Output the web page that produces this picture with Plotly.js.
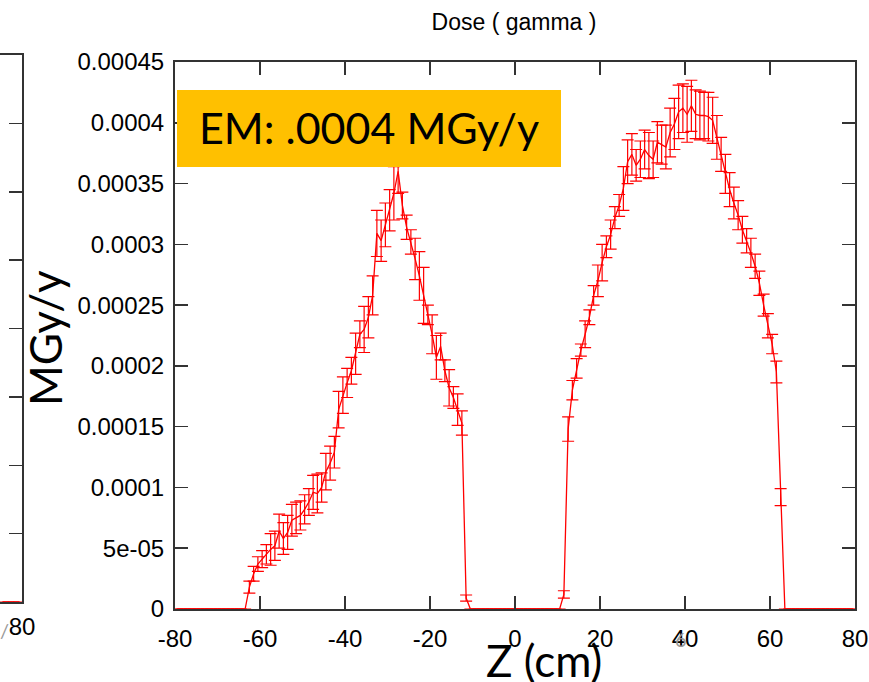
<!DOCTYPE html>
<html>
<head>
<meta charset="utf-8">
<script src="https://cdn.plot.ly/plotly-3.0.1.min.js"></script>
<style>html,body{margin:0;padding:0;background:#fff;}#chart{width:869px;height:682px;}</style>
</head>
<body>
<div id="chart"></div>
<script>
// Bin centres along Z (cm)
const zCm = [
-79.5,-78.5,-77.5,-76.5,-75.5,-74.5,-73.5,-72.5,-71.5,-70.5,-69.5,-68.5,-67.5,-66.5,-65.5,-64.5,-63.5,
-62.5,-61.5,-60.5,-59.5,-58.5,-57.5,-56.5,-55.5,-54.5,-53.5,-52.5,-51.5,-50.5,-49.5,-48.5,-47.5,-46.5,-45.5,-44.5,-43.5,
-42.5,-41.5,-40.5,-39.5,-38.5,-37.5,-36.5,-35.5,-34.5,-33.5,-32.5,-31.5,-30.5,-29.5,-28.5,-27.5,-26.5,-25.5,-24.5,-23.5,
-22.5,-21.5,-20.5,-19.5,-18.5,-17.5,-16.5,-15.5,-14.5,-13.5,-12.5,-11.5,
-10.5,-9.5,-8.5,-7.5,-6.5,-5.5,-4.5,-3.5,-2.5,-1.5,-0.5,0.5,1.5,2.5,3.5,4.5,5.5,6.5,7.5,8.5,9.5,10.5,
11.5,12.5,13.5,14.5,15.5,16.5,17.5,18.5,19.5,20.5,21.5,22.5,23.5,24.5,25.5,26.5,27.5,28.5,29.5,30.5,
31.5,32.5,33.5,34.5,35.5,36.5,37.5,38.5,39.5,40.5,41.5,42.5,43.5,44.5,45.5,46.5,47.5,48.5,49.5,50.5,
51.5,52.5,53.5,54.5,55.5,56.5,57.5,58.5,59.5,60.5,61.5,62.5,
63.5,64.5,65.5,66.5,67.5,68.5,69.5,70.5,71.5,72.5,73.5,74.5,75.5,76.5,77.5,78.5,79.5
];
// Dose (MGy/y)
const dose = [
0,0,0,0,0,0,0,0,0,0,0,0,0,0,0,0,0,
1.8e-5,2.9e-5,3.7e-5,4.1e-5,4.5e-5,4.9e-5,5.2e-5,6.4e-5,5.8e-5,6.3e-5,7.3e-5,7.5e-5,7.7e-5,8.2e-5,8.8e-5,9.6e-5,9.5e-5,10.0e-5,11.3e-5,12.0e-5,
12.9e-5,16.4e-5,17.6e-5,18.6e-5,19.6e-5,21.0e-5,22.6e-5,23.0e-5,24.0e-5,25.8e-5,30.9e-5,30.3e-5,31.6e-5,32.8e-5,34.2e-5,36.0e-5,33.2e-5,31.4e-5,30.2e-5,28.8e-5,
27.4e-5,25.8e-5,24.2e-5,22.6e-5,20.7e-5,21.6e-5,19.6e-5,18.2e-5,17.4e-5,16.4e-5,15.3e-5,0.9e-5,
0,0,0,0,0,0,0,0,0,0,0,0,0,0,0,0,0,0,0,0,0,0,
1.2e-5,14.8e-5,18.0e-5,19.8e-5,21.3e-5,22.6e-5,24.0e-5,25.8e-5,27.0e-5,28.5e-5,29.8e-5,30.8e-5,32.2e-5,33.2e-5,34.6e-5,36.8e-5,37.4e-5,36.5e-5,37.0e-5,37.8e-5,
37.3e-5,37.0e-5,38.4e-5,38.2e-5,38.0e-5,39.2e-5,39.9e-5,40.9e-5,41.2e-5,40.7e-5,41.4e-5,40.7e-5,40.6e-5,40.6e-5,40.5e-5,40.2e-5,38.8e-5,37.4e-5,35.8e-5,34.5e-5,
33.4e-5,32.4e-5,31.2e-5,30.3e-5,29.3e-5,28.2e-5,26.8e-5,25.0e-5,23.3e-5,21.8e-5,19.5e-5,9.2e-5,
0,0,0,0,0,0,0,0,0,0,0,0,0,0,0,0,0
];
// Statistical error (MGy/y)
const doseErr = [
0,0,0,0,0,0,0,0,0,0,0,0,0,0,0,0,0,
0.5e-5,0.6e-5,0.6e-5,0.7e-5,0.8e-5,1.3e-5,1.2e-5,1.4e-5,1.3e-5,1.4e-5,1.3e-5,1.3e-5,1.2e-5,1.2e-5,1.1e-5,1.4e-5,1.6e-5,1.2e-5,1.5e-5,1.4e-5,
1.3e-5,1.5e-5,1.5e-5,1.2e-5,1.1e-5,1.7e-5,1.1e-5,1.9e-5,1.7e-5,1.6e-5,1.9e-5,1.7e-5,1.8e-5,1.7e-5,2.2e-5,1.8e-5,1.1e-5,1.0e-5,1.0e-5,1.7e-5,
2.0e-5,2.3e-5,0.8e-5,1.6e-5,1.8e-5,1.1e-5,0.9e-5,1.5e-5,0.9e-5,1.3e-5,1.0e-5,0.25e-5,
0,0,0,0,0,0,0,0,0,0,0,0,0,0,0,0,0,0,0,0,0,0,
0.3e-5,1.0e-5,0.8e-5,0.8e-5,0.5e-5,1.1e-5,0.6e-5,0.8e-5,1.3e-5,1.5e-5,0.9e-5,1.2e-5,0.9e-5,0.9e-5,1.8e-5,1.8e-5,1.7e-5,1.3e-5,1.5e-5,1.6e-5,
1.9e-5,1.5e-5,1.7e-5,1.6e-5,1.8e-5,2.0e-5,2.1e-5,2.2e-5,2.0e-5,2.3e-5,2.1e-5,2.0e-5,2.0e-5,1.9e-5,2.0e-5,1.9e-5,1.8e-5,1.4e-5,1.6e-5,1.4e-5,
1.3e-5,1.2e-5,1.1e-5,1.0e-5,1.2e-5,1.0e-5,1.0e-5,0.9e-5,1.0e-5,0.8e-5,0.9e-5,0.7e-5,
0,0,0,0,0,0,0,0,0,0,0,0,0,0,0,0,0
];
// Tick labels
const xTickVals = [-80,-60,-40,-20,0,20,40,60,80];
const xTickText = ['-80','-60','-40','-20','0','20','40','60','80'];
const yTickVals = [0,0.00005,0.0001,0.00015,0.0002,0.00025,0.0003,0.00035,0.0004,0.00045];
const yTickText = ['0','5e-05','0.0001','0.00015','0.0002','0.00025','0.0003','0.00035','0.0004','0.00045'];
// neighbouring (cut-off) panel on the left
const leftZ = [76.5,77.5,78.5,79.5];
const leftDose = [0,0,0,0];

const W = 855, TOP = 55, BOT = 609, H = BOT - TOP;
const px = x => x / W;
const py = y => (BOT - y) / H;

const red = '#ff0000';
const axisCol = '#333333';
const tickFont = {family: 'Liberation Sans, Arial, sans-serif', size: 24, color: '#000'};

const traces = [
  {
    x: zCm, y: dose, type: 'scatter', mode: 'lines',
    line: {color: red, width: 1.3},
    error_y: {type: 'data', array: doseErr, visible: true, color: red, thickness: 1.2, width: 6},
    cliponaxis: false, xaxis: 'x', yaxis: 'y', hoverinfo: 'skip'
  },
  {
    x: leftZ, y: leftDose, type: 'scatter', mode: 'lines',
    line: {color: red, width: 1.3},
    error_y: {type: 'data', array: [0,0,0,0], visible: true, color: red, thickness: 1.2, width: 6},
    cliponaxis: false, xaxis: 'x2', yaxis: 'y2', hoverinfo: 'skip'
  }
];

const layout = {
  width: 869, height: 682,
  margin: {l: 0, r: 14, t: TOP, b: 682 - BOT, pad: 0},
  paper_bgcolor: '#fff', plot_bgcolor: 'rgba(0,0,0,0)',
  showlegend: false,
  title: {
    text: 'Dose ( gamma )', xref: 'container', yref: 'container',
    x: 514 / 869, y: 1 - 22 / 682, xanchor: 'center', yanchor: 'middle',
    font: {family: 'Liberation Sans, Arial, sans-serif', size: 23, color: '#000'}
  },
  xaxis: {
    domain: [175 / W, 1], range: [-80, 80], anchor: 'y',
    tickvals: xTickVals, ticktext: xTickText,
    ticks: 'inside', ticklen: 13, tickwidth: 1.5, tickcolor: axisCol,
    showline: true, linecolor: axisCol, linewidth: 2, mirror: 'ticks',
    showgrid: false, zeroline: false, tickfont: tickFont, ticklabelstandoff: 7
  },
  yaxis: {
    domain: [0, 547 / H], range: [0, 0.00045], anchor: 'x',
    tickvals: yTickVals, ticktext: yTickText,
    ticks: 'inside', ticklen: 13, tickwidth: 1.5, tickcolor: axisCol,
    showline: true, linecolor: axisCol, linewidth: 2, mirror: 'ticks',
    showgrid: false, zeroline: false, tickfont: tickFont, ticklabelstandoff: 4
  },
  xaxis2: {
    domain: [0, 22 / W], range: [76, 80], anchor: 'y2',
    tickvals: [80], ticktext: ['80'], ticks: '',
    showline: true, linecolor: axisCol, linewidth: 2, mirror: true,
    showgrid: false, zeroline: false, tickfont: tickFont, ticklabelstandoff: 2
  },
  yaxis2: {
    domain: [7 / H, 1], range: [0, 8], anchor: 'x2', side: 'right',
    tickvals: [1,2,3,4,5,6,7], showticklabels: false,
    ticks: 'inside', ticklen: 13, tickwidth: 1.5, tickcolor: axisCol,
    showline: true, linecolor: axisCol, linewidth: 2,
    showgrid: false, zeroline: false
  },
  shapes: [
    {type: 'rect', xref: 'paper', yref: 'paper', x0: px(177), x1: px(561), y0: py(167), y1: py(90),
     fillcolor: '#FFC000', line: {width: 0}, layer: 'above'}
  ],
  annotations: [
    {text: 'EM: .0004 MGy/y', xref: 'paper', yref: 'paper', x: px(369), y: py(128),
     xanchor: 'center', yanchor: 'middle', showarrow: false,
     font: {family: 'Lato, Carlito, sans-serif', size: 43, color: '#000'}},
    {text: 'MGy/y', xref: 'paper', yref: 'paper', x: px(45), y: py(338), textangle: -90,
     xanchor: 'center', yanchor: 'middle', showarrow: false,
     font: {family: 'Lato, Carlito, sans-serif', size: 44, color: '#000'}},
    {text: 'Z (cm)', xref: 'paper', yref: 'paper', x: px(544), y: py(660),
     xanchor: 'center', yanchor: 'middle', showarrow: false,
     font: {family: 'Lato, Carlito, sans-serif', size: 44, color: '#000'}},
    {text: '6', xref: 'paper', yref: 'paper', x: px(681), y: py(639),
     xanchor: 'center', yanchor: 'middle', showarrow: false,
     font: {family: 'Lato, sans-serif', size: 20, color: '#999'}},
    {text: '/', xref: 'paper', yref: 'paper', x: px(4), y: py(630),
     xanchor: 'center', yanchor: 'middle', showarrow: false,
     font: {family: 'Lato, sans-serif', size: 20, color: '#999'}}
  ]
};

Plotly.newPlot('chart', traces, layout, {staticPlot: true, displayModeBar: false});
</script>
</body>
</html>
